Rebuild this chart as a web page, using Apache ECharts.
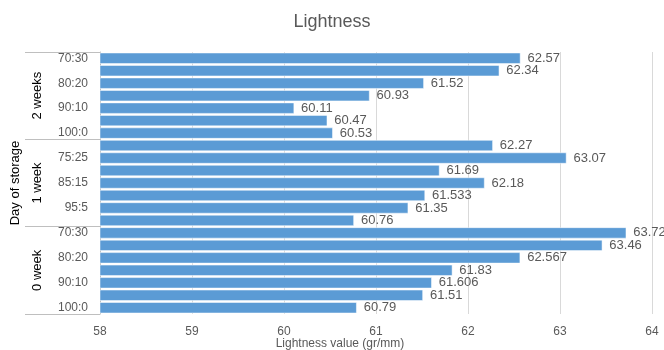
<!DOCTYPE html>
<html><head><meta charset="utf-8">
<script src="https://cdn.jsdelivr.net/npm/echarts@6/dist/echarts.min.js"></script>
<style>html,body{margin:0;padding:0;background:#fff}#c{width:664px;height:350px}</style>
</head><body><div id="c"></div>
<script>
const ratios = ["70:30","75:25","80:20","85:15","90:10","95:5","100:0"];
const groups = ["2 weeks","1 week","0 week"];
const week2 = [62.57, 62.34, 61.52, 60.93, 60.11, 60.47, 60.53];
const week1 = [62.27, 63.07, 61.69, 62.18, 61.533, 61.35, 60.76];
const week0 = [63.72, 63.46, 62.567, 61.83, 61.606, 61.51, 60.79];
const xTicks = [58, 59, 60, 61, 62, 63, 64];

const categories = [].concat(ratios, ratios, ratios);
const values = [].concat(week2, week1, week0);
const FF = '"Liberation Sans", Arial, sans-serif';
const TC = '#595959';

const chart = echarts.init(document.getElementById('c'));
chart.setOption({
  animation: false,
  title: {text: 'Lightness', left: 'center', top: 8,
    textStyle: {fontFamily: FF, fontSize: 18, fontWeight: 'normal', color: TC}},
  grid: {left: 100, right: 12, top: 52, bottom: 36, containLabel: false, outerBoundsMode: 'none'},
  xAxis: {
    type: 'value', min: xTicks[0], max: xTicks[xTicks.length-1], interval: 1,
    name: 'Lightness value (gr/mm)', nameLocation: 'middle', nameGap: 24, nameMoveOverlap: false,
    nameTextStyle: {fontFamily: FF, fontSize: 12, color: TC, padding: [0, 72, 0, 0]},
    axisLine: {show: false}, axisTick: {show: false},
    axisLabel: {fontFamily: FF, fontSize: 12, color: TC, margin: 12},
    splitLine: {show: true, lineStyle: {color: '#d9d9d9', width: 1}}
  },
  yAxis: [{
    type: 'category', data: categories, inverse: true,
    axisLine: {show: true, lineStyle: {color: '#bfbfbf'}},
    axisTick: {show: false},
    axisLabel: {interval: 1, fontFamily: FF, fontSize: 12, color: TC, margin: 12}
  }, {
    type: 'category', data: groups, inverse: true, position: 'left',
    name: 'Day of storage', nameLocation: 'middle', nameGap: 78, nameRotate: 90, nameMoveOverlap: false,
    nameTextStyle: {fontFamily: FF, fontSize: 13, color: '#000'},
    axisLine: {show: false},
    axisTick: {show: true, length: 75, lineStyle: {color: '#bfbfbf'}},
    axisLabel: {rotate: 90, fontFamily: FF, fontSize: 13, color: '#000', margin: 56}
  }],
  series: [{
    type: 'bar', yAxisIndex: 0, data: values, barCategoryGap: '12%',
    itemStyle: {color: '#5b9bd5', borderColor: '#ffffff', borderWidth: 0.5},
    label: {show: true, position: 'right', distance: 7, fontFamily: FF, fontSize: 13, color: TC}
  }]
});
</script></body></html>
